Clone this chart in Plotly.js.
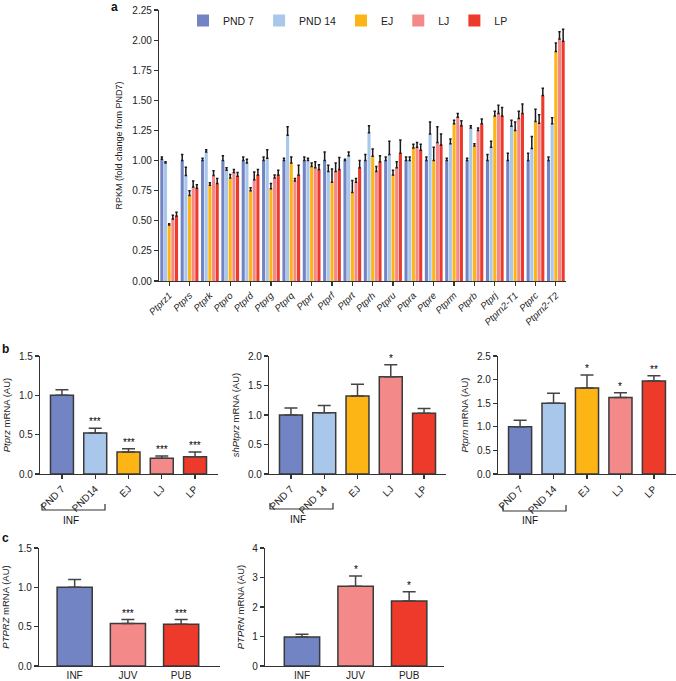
<!DOCTYPE html>
<html>
<head>
<meta charset="utf-8">
<script src="https://cdn.plot.ly/plotly-3.0.1.min.js"></script>
<style>
  html, body { margin: 0; padding: 0; background: #fff; }
  #chart { width: 676px; height: 681px; }
</style>
</head>
<body>
<div id="chart"></div>
<script>
// Panel a: RPKM fold change per gene
const genes = ["Ptprz1", "Ptprs", "Ptprk", "Ptpro", "Ptprd", "Ptprg", "Ptprq", "Ptprr", "Ptprf", "Ptprt",
  "Ptprh", "Ptpru", "Ptpra", "Ptpre", "Ptprm", "Ptprb", "Ptprj", "Ptprn2-T1", "Ptprc", "Ptprn2-T2"];
const groupNames = ["PND 7", "PND 14", "EJ", "LJ", "LP"];
const groupColors = ["#7284c3", "#a9c7ea", "#fdb515", "#f4898a", "#ee3a2a"];

const pnd7 = [1.01, 1.00, 1.00, 1.00, 1.00, 1.00, 1.00, 1.00, 1.00, 1.00, 1.00, 1.00, 1.00, 1.00, 1.00, 1.00, 1.00, 1.00, 1.00, 1.00];
const pnd7Err = [0.02, 0.05, 0.02, 0.04, 0.03, 0.03, 0.02, 0.03, 0.07, 0.01, 0.05, 0.03, 0.03, 0.03, 0.02, 0.02, 0.05, 0.06, 0.06, 0.03];
const pnd14 = [0.98, 0.875, 1.07, 0.92, 0.98, 1.02, 1.21, 1.00, 0.91, 1.04, 1.23, 1.05, 1.00, 1.22, 1.14, 1.27, 1.11, 1.285, 1.10, 1.305];
const pnd14Err = [0.01, 0.07, 0.02, 0.02, 0.03, 0.07, 0.07, 0.02, 0.05, 0.03, 0.06, 0.11, 0.03, 0.10, 0.04, 0.02, 0.05, 0.05, 0.10, 0.05];
const ej = [0.465, 0.71, 0.795, 0.855, 0.75, 0.765, 0.98, 0.95, 0.82, 0.735, 1.035, 0.88, 1.105, 1.00, 1.305, 1.12, 1.37, 1.25, 1.325, 1.905];
const ejErr = [0.01, 0.04, 0.02, 0.03, 0.025, 0.045, 0.05, 0.03, 0.11, 0.10, 0.06, 0.04, 0.03, 0.11, 0.03, 0.02, 0.04, 0.07, 0.10, 0.07];
const lj = [0.515, 0.78, 0.875, 0.90, 0.84, 0.855, 0.83, 0.94, 0.91, 0.82, 0.91, 0.94, 1.11, 1.15, 1.36, 1.25, 1.39, 1.35, 1.31, 2.01];
const ljErr = [0.03, 0.05, 0.04, 0.025, 0.065, 0.025, 0.02, 0.05, 0.07, 0.03, 0.04, 0.05, 0.04, 0.13, 0.03, 0.02, 0.07, 0.06, 0.07, 0.06];
const lp = [0.54, 0.77, 0.81, 0.87, 0.88, 0.88, 0.88, 0.925, 0.925, 0.94, 0.99, 1.06, 1.085, 1.13, 1.29, 1.305, 1.37, 1.39, 1.54, 1.99];
const lpErr = [0.03, 0.03, 0.04, 0.03, 0.045, 0.04, 0.08, 0.04, 0.10, 0.06, 0.05, 0.11, 0.05, 0.09, 0.04, 0.04, 0.07, 0.08, 0.06, 0.10];

// Panel b: qPCR, rat stages
const stagesB1 = ["PND 7", "PND14", "EJ", "LJ", "LP"];
const stagesB = ["PND 7", "PND 14", "EJ", "LJ", "LP"];
const ptprz = [1.00, 0.52, 0.28, 0.20, 0.22];
const ptprzErr = [0.07, 0.06, 0.04, 0.03, 0.06];
const ptprzStars = ["", "***", "***", "***", "***"];
const shPtprz = [1.00, 1.04, 1.32, 1.65, 1.03];
const shPtprzErr = [0.12, 0.12, 0.20, 0.20, 0.08];
const shPtprzStars = ["", "", "", "*", ""];
const ptprn = [1.00, 1.50, 1.82, 1.62, 1.97];
const ptprnErr = [0.14, 0.21, 0.28, 0.10, 0.11];
const ptprnStars = ["", "", "*", "*", "**"];

// Panel c: human stages
const stagesC = ["INF", "JUV", "PUB"];
const colorsC = ["#7284c3", "#f4898a", "#ee3a2a"];
const PTPRZ = [1.00, 0.54, 0.53];
const PTPRZErr = [0.10, 0.05, 0.06];
const PTPRZStars = ["", "***", "***"];
const PTPRN = [0.98, 2.70, 2.20];
const PTPRNErr = [0.10, 0.35, 0.32];
const PTPRNStars = ["", "*", "*"];

const W = 676, H = 681;
const px = v => v / W;
const py = v => 1 - v / H;
const font = "Liberation Sans, Arial, sans-serif";
const axisCol = "#333";

function zeros(arr) { return arr.map(() => 0); }

const traces = [];
const seriesA = [[pnd7, pnd7Err], [pnd14, pnd14Err], [ej, ejErr], [lj, ljErr], [lp, lpErr]];
seriesA.forEach(([vals, errs], i) => {
  traces.push({
    type: "bar",
    name: groupNames[i],
    x: genes,
    y: vals,
    xaxis: "x",
    yaxis: "y",
    marker: { color: groupColors[i], line: { width: 0 } },
    error_y: { type: "data", symmetric: false, array: errs, arrayminus: zeros(errs),
      color: "#1a1a1a", thickness: 1.5, width: 1.2 },
    hoverinfo: "x+y"
  });
});

function qpcrTrace(cats, vals, errs, colors, xa, ya, w) {
  return {
    type: "bar",
    x: cats,
    y: vals,
    xaxis: xa,
    yaxis: ya,
    width: w,
    showlegend: false,
    marker: { color: colors, line: { color: "#3a3a3a", width: 1.5 } },
    error_y: { type: "data", symmetric: false, array: errs, arrayminus: zeros(errs),
      color: "#444", thickness: 1.5, width: 6.5 }
  };
}

traces.push(qpcrTrace(stagesB1, ptprz, ptprzErr, groupColors, "x2", "y2", 0.69));
traces.push(qpcrTrace(stagesB, shPtprz, shPtprzErr, groupColors, "x3", "y3", 0.69));
traces.push(qpcrTrace(stagesB, ptprn, ptprnErr, groupColors, "x4", "y4", 0.69));
traces.push(qpcrTrace(stagesC, PTPRZ, PTPRZErr, colorsC, "x5", "y5", 0.66));
traces.push(qpcrTrace(stagesC, PTPRN, PTPRNErr, colorsC, "x6", "y6", 0.66));

function xAx(domain, anchor, range, extra) {
  return Object.assign({
    domain: domain, anchor: anchor, range: range, type: "category",
    showline: true, linecolor: axisCol, linewidth: 1.2,
    ticks: "outside", ticklen: 4, tickcolor: axisCol, tickwidth: 1.2,
    showgrid: false, zeroline: false, fixedrange: true,
    tickfont: { family: font, size: 10, color: "#222" }
  }, extra || {});
}
function yAx(domain, anchor, range, dtick, fmt, title, extra) {
  return Object.assign({
    domain: domain, anchor: anchor, range: range, dtick: dtick, tickformat: fmt,
    showline: true, linecolor: axisCol, linewidth: 1.2,
    ticks: "outside", ticklen: 4, tickcolor: axisCol, tickwidth: 1.2,
    showgrid: false, zeroline: false, fixedrange: true,
    tickfont: { family: font, size: 10, color: "#222" },
    title: { text: title, font: { family: font, size: 9.5, color: "#222" }, standoff: 6 }
  }, extra || {});
}

const bY = [py(474), py(356)];
const cY = [py(666), py(548)];

function starNotes(cats, vals, errs, stars, xa, ya) {
  return cats.map((c, i) => ({
    x: c, y: vals[i] + errs[i], xref: xa, yref: ya,
    text: stars[i], showarrow: false, yanchor: "bottom", yshift: -1,
    font: { family: font, size: 10, color: "#000" }
  })).filter(a => a.text);
}

function bracket(x0, x1, yLine) {
  return {
    type: "path", xref: "paper", yref: "paper",
    path: `M ${px(x0)} ${py(yLine - 6)} L ${px(x0)} ${py(yLine)} L ${px(x1)} ${py(yLine)} L ${px(x1)} ${py(yLine - 6)}`,
    line: { color: "#333", width: 1.2 }
  };
}
function label(text, x, y, size, bold) {
  return {
    text: bold ? `<b>${text}</b>` : text, x: px(x), y: py(y), xref: "paper", yref: "paper",
    showarrow: false, xanchor: "center", yanchor: "middle",
    font: { family: font, size: size, color: "#111" }
  };
}

const layout = {
  width: W,
  height: H,
  margin: { l: 0, r: 0, t: 0, b: 0 },
  paper_bgcolor: "#fff",
  plot_bgcolor: "rgba(0,0,0,0)",
  font: { family: font, color: "#222" },
  barmode: "group",
  bargap: 0.1,
  bargroupgap: 0.15,
  showlegend: true,
  legend: {
    orientation: "h", x: px(183), y: py(6), xanchor: "left", yanchor: "top",
    font: { family: font, size: 10.5, color: "#222" }, bgcolor: "rgba(0,0,0,0)",
    itemwidth: 30, traceorder: "normal"
  },
  xaxis: xAx([px(159), px(566)], "y", [-0.5, 19.5], {
    tickangle: -45, tickfont: { family: font, size: 9.5, color: "#222", style: "italic" }
  }),
  yaxis: yAx([py(281), py(10)], "x", [0, 2.25], 0.25, ".2f", "RPKM (fold change from PND7)", {
    title: { text: "RPKM (fold change from PND7)", font: { family: font, size: 9, color: "#222" }, standoff: 8 }
  }),
  xaxis2: xAx([px(40), px(218)], "y2", [-0.66, 4.69], { tickangle: -45 }),
  yaxis2: yAx(bY, "x2", [0, 1.5], 0.5, ".1f", "<i>Ptprz</i> mRNA (AU)"),
  xaxis3: xAx([px(269), px(446)], "y3", [-0.66, 4.66], { tickangle: -45 }),
  yaxis3: yAx(bY, "x3", [0, 2.0], 0.5, ".1f", "<i>shPtprz</i> mRNA (AU)"),
  xaxis4: xAx([px(498), px(676)], "y4", [-0.66, 4.66], { tickangle: -45 }),
  yaxis4: yAx(bY, "x4", [0, 2.5], 0.5, ".1f", "<i>Ptprn</i> mRNA (AU)"),
  xaxis5: xAx([px(39), px(220)], "y5", [-0.67, 2.73], { ticks: "" }),
  yaxis5: yAx(cY, "x5", [0, 1.5], 0.5, ".1f", "<i>PTPRZ</i> mRNA (AU)"),
  xaxis6: xAx([px(265), px(444)], "y6", [-0.69, 2.65], { ticks: "" }),
  yaxis6: yAx(cY, "x6", [0, 4], 1, "d", "<i>PTPRN</i> mRNA (AU)"),
  shapes: [
    bracket(42, 105, 510),
    bracket(270, 333, 509),
    bracket(503, 566, 511)
  ],
  annotations: [
    label("a", 114, 7, 12, true),
    label("b", 5, 349, 12, true),
    label("c", 5, 538, 12, true),
    label("INF", 71, 520, 10, false),
    label("INF", 298, 519, 10, false),
    label("INF", 530, 520, 10, false)
  ]
    .concat(starNotes(stagesB1, ptprz, ptprzErr, ptprzStars, "x2", "y2"))
    .concat(starNotes(stagesB, shPtprz, shPtprzErr, shPtprzStars, "x3", "y3"))
    .concat(starNotes(stagesB, ptprn, ptprnErr, ptprnStars, "x4", "y4"))
    .concat(starNotes(stagesC, PTPRZ, PTPRZErr, PTPRZStars, "x5", "y5"))
    .concat(starNotes(stagesC, PTPRN, PTPRNErr, PTPRNStars, "x6", "y6"))
};

Plotly.newPlot("chart", traces, layout, { displayModeBar: false, staticPlot: true });
</script>
</body>
</html>
